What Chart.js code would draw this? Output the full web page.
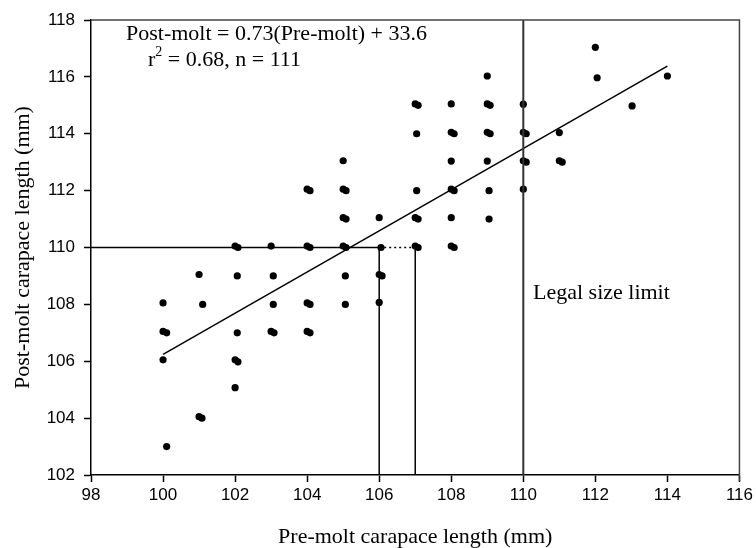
<!DOCTYPE html>
<html>
<head>
<meta charset="utf-8">
<script src="https://cdn.jsdelivr.net/npm/chart.js@4.4.0/dist/chart.umd.min.js"></script>
<style>
  html, body { margin: 0; padding: 0; background: #fff; }
</style>
</head>
<body>
<canvas id="moltChart" width="756" height="548"></canvas>
<script>
const preMolt = [
  100, 100, 100.1, 100, 100.1,
  101, 101.1, 101, 101.08,
  102, 102.08, 102.06, 102.06, 102, 102.08, 102,
  103, 103.06, 103.06, 103, 103.08,
  104, 104.08, 104, 104.08, 104, 104.08, 104, 104.08,
  105, 105, 105.08, 105, 105.08, 105, 105.08, 105.06, 105.06,
  106, 106.05, 106, 106.08, 106,
  107, 107.08, 107.04, 107.04, 107, 107.08, 107, 107.08,
  108, 108, 108.08, 108, 108, 108.08, 108, 108, 108.08,
  109, 109, 109.08, 109, 109.08, 109, 109.05, 109.05,
  110, 110, 110.08, 110, 110.08, 110,
  111, 111, 111.08,
  112, 112.05,
  113.02,
  114
];
const postMolt = [
  108.05, 107.05, 107.0, 106.05, 103.0,
  109.05, 108.0, 104.05, 104.0,
  110.05, 110.0, 109.0, 107.0, 106.05, 105.98, 105.07,
  110.05, 109.0, 108.0, 107.05, 107.0,
  112.05, 112.0, 110.05, 110.0, 108.05, 108.0, 107.05, 107.0,
  113.05, 112.05, 112.0, 111.05, 111.0, 110.05, 110.0, 109.0, 108.0,
  111.05, 110.0, 109.05, 109.0, 108.07,
  115.05, 115.0, 114.0, 112.0, 111.05, 111.0, 110.05, 110.0,
  115.05, 114.05, 114.0, 113.04, 112.05, 112.0, 111.05, 110.05, 110.0,
  116.03, 115.05, 115.0, 114.05, 114.0, 113.04, 112.0, 111.0,
  115.04, 114.05, 114.0, 113.05, 113.0, 112.05,
  114.04, 113.05, 113.0,
  117.04, 115.97,
  114.98,
  116.03
];

// fitted regression line ends
const fitX = [100, 114];
const fitY = [106.24, 116.38];

// legal size limit and the 110 mm lookup lines
const legalLimit = 110;
const targetPost = 110;
const preAtTarget = [106, 107];

const xTicks = [98, 100, 102, 104, 106, 108, 110, 112, 114, 116];
const yTicks = [102, 104, 106, 108, 110, 112, 114, 116, 118];

const serif = 'Liberation Serif, Times New Roman, serif';
const sans = 'Liberation Sans, Arial, sans-serif';

const pts = preMolt.map((x, i) => ({ x: x, y: postMolt[i] }));

const lineSet = (data, color, width, dash) => ({
  data: data,
  showLine: true,
  borderColor: color,
  borderWidth: width,
  borderDash: dash || [],
  pointRadius: 0,
  fill: false
});

// top/right frame of the plot
const framePlugin = {
  id: 'frame',
  afterDraw(chart) {
    const { ctx, chartArea: a } = chart;
    ctx.save();
    ctx.strokeStyle = '#444';
    ctx.lineWidth = 1.5;
    ctx.beginPath();
    ctx.moveTo(a.left, a.top);
    ctx.lineTo(a.right, a.top);
    ctx.lineTo(a.right, a.bottom + 6);
    ctx.stroke();
    ctx.restore();
  }
};

// equation and labels
const notesPlugin = {
  id: 'notes',
  afterDraw(chart) {
    const { ctx } = chart;
    ctx.save();
    ctx.fillStyle = '#000';
    ctx.font = '22px ' + serif;
    ctx.textBaseline = 'alphabetic';
    ctx.textAlign = 'left';
    ctx.fillText('Post-molt = 0.73(Pre-molt) + 33.6', 126, 40);
    ctx.fillText('r', 148, 66);
    const rw = ctx.measureText('r').width;
    ctx.font = '14px ' + serif;
    ctx.fillText('2', 148 + rw, 56);
    const sw = ctx.measureText('2').width;
    ctx.font = '22px ' + serif;
    ctx.fillText(' = 0.68, n = 111', 148 + rw + sw, 66);
    ctx.fillText('Legal size limit', 533, 299);
    ctx.restore();
  }
};

new Chart(document.getElementById('moltChart'), {
  type: 'scatter',
  data: {
    datasets: [
      lineSet([{ x: legalLimit, y: 102 }, { x: legalLimit, y: 118 }], '#333', 2),
      lineSet([{ x: 98, y: targetPost }, { x: preAtTarget[0], y: targetPost }], '#000', 1.5),
      lineSet([{ x: preAtTarget[0], y: targetPost }, { x: preAtTarget[1], y: targetPost }], '#000', 1.3, [2, 3]),
      lineSet([{ x: preAtTarget[0], y: 102 }, { x: preAtTarget[0], y: targetPost }], '#000', 1.5),
      lineSet([{ x: preAtTarget[1], y: 102 }, { x: preAtTarget[1], y: targetPost }], '#000', 1.5),
      lineSet(fitX.map((x, i) => ({ x: x, y: fitY[i] })), '#000', 1.5),
      {
        data: pts,
        pointRadius: 3.6,
        pointBackgroundColor: '#000',
        pointBorderWidth: 0,
        showLine: false
      }
    ]
  },
  options: {
    responsive: false,
    animation: false,
    layout: { padding: { top: 20, right: 15, left: 0, bottom: 0 } },
    plugins: { legend: { display: false }, tooltip: { enabled: false } },
    scales: {
      x: {
        type: 'linear',
        min: 98,
        max: 116,
        afterBuildTicks: s => { s.ticks = xTicks.map(v => ({ value: v })); },
        afterFit: s => { s.height = 73; },
        ticks: { autoSkip: false, maxRotation: 0, padding: 3, color: '#000', font: { family: sans, size: 17 } },
        grid: { drawOnChartArea: false, drawTicks: true, tickLength: 7, tickColor: '#000', tickWidth: 1.5 },
        border: { color: '#000', width: 1.5 },
        title: {
          display: true,
          text: 'Pre-molt carapace length (mm)',
          color: '#000',
          padding: 0,
          font: { family: serif, size: 22, lineHeight: 1 }
        }
      },
      y: {
        type: 'linear',
        min: 102,
        max: 118,
        afterBuildTicks: s => { s.ticks = yTicks.map(v => ({ value: v })); },
        afterFit: s => { s.width = 91; },
        ticks: { autoSkip: false, padding: 9, color: '#000', font: { family: sans, size: 17 } },
        grid: { drawOnChartArea: false, drawTicks: true, tickLength: 7, tickColor: '#000', tickWidth: 1.5 },
        border: { color: '#000', width: 1.5 },
        title: {
          display: true,
          text: 'Post-molt carapace length (mm)',
          color: '#000',
          padding: { top: 12, bottom: 0 },
          font: { family: serif, size: 22, lineHeight: 1 }
        }
      }
    }
  },
  plugins: [framePlugin, notesPlugin]
});
</script>
</body>
</html>
